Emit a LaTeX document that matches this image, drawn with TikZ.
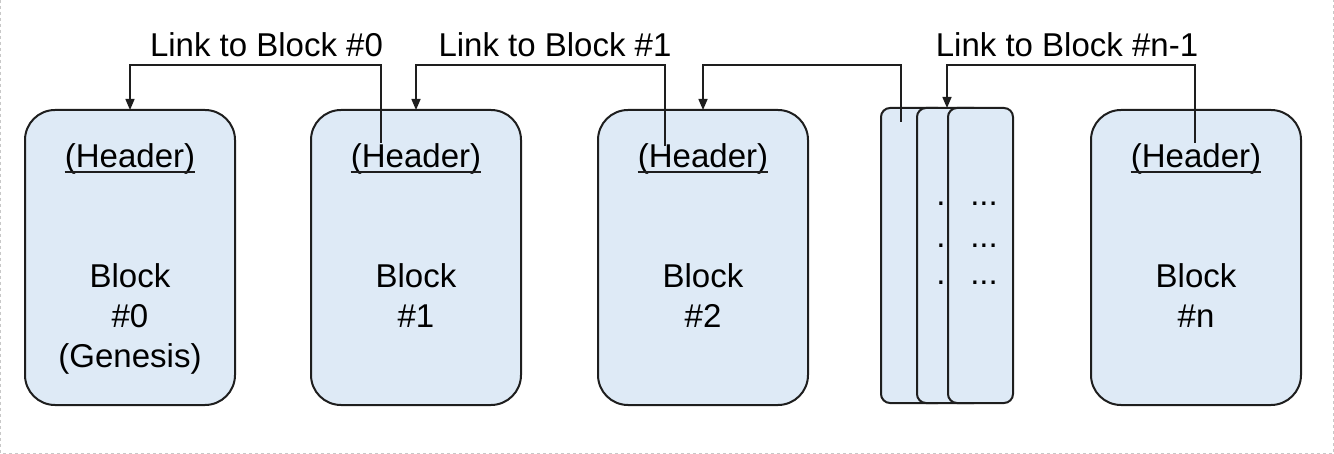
\documentclass[tikz,border=0pt]{standalone}
\usepackage{fontspec}
\setmainfont{Liberation Sans}
\usetikzlibrary{arrows.meta}
\definecolor{boxfill}{RGB}{222,234,246}
\definecolor{edge}{RGB}{30,30,30}
\definecolor{frame}{RGB}{200,200,200}
\begin{document}
\begin{tikzpicture}[x=1pt,y=-1pt,
  blockbox/.style={draw=edge,line width=2pt,fill=boxfill,rounded corners=30pt,
    minimum width=210pt,minimum height=295pt,inner sep=0pt,outer sep=0pt},
  stackbox/.style={draw=edge,line width=2pt,fill=boxfill,rounded corners=9pt,
    minimum width=66pt,minimum height=295pt,inner sep=0pt,outer sep=0pt},
  txt/.style={font=\fontsize{33}{40}\selectfont,inner sep=0pt,anchor=base},
  uline/.style={draw=edge,line width=1.5pt},
  link/.style={draw=edge,line width=1.5pt,-{Triangle[length=11pt,width=9pt]}}]
\useasboundingbox (0,0) rectangle (1334,454);
% faint frame
\draw[frame,dashed,line width=1pt] (0.5,0) -- (0.5,453.5) -- (1333.5,453.5) -- (1333.5,0);

% blocks
\node[blockbox] (b0) at (130,257.5) {};
\node[blockbox] (b1) at (416,257.5) {};
\node[blockbox] (b2) at (703,257.5) {};
\node[blockbox] (bn) at (1196,257.5) {};

% stack
\node[stackbox] (sa) at (914,255.5) {};
\node[stackbox] (sb) at (950,255.5) {};
\node[txt] (sbd1) at (950,206) {...};
\node[txt] (sbd2) at (950,248) {...};
\node[txt] (sbd3) at (950,285) {...};
\node[stackbox,minimum width=65pt] (sc) at (980.5,255.5) {};
\node[txt] (scd1) at (984,206) {...};
\node[txt] (scd2) at (984,248) {...};
\node[txt] (scd3) at (984,285) {...};

% headers
\foreach \n/\x in {h0/130,h1/416,h2/703,hn/1196}{
  \node[txt] (\n) at (\x,168) {(Header)};
  \draw[uline] ([yshift=-4pt]\n.base west) -- ([yshift=-4pt]\n.base east);
}

% block texts
\node[txt] (t0a) at (130,288) {Block};
\node[txt] (t0b) at (130,328) {\#0};
\node[txt] (t0c) at (130,368) {(Genesis)};
\node[txt] (t1a) at (416,288) {Block};
\node[txt] (t1b) at (416,328) {\#1};
\node[txt] (t2a) at (703,288) {Block};
\node[txt] (t2b) at (703,328) {\#2};
\node[txt] (tna) at (1196,288) {Block};
\node[txt] (tnb) at (1196,328) {\#n};

% link labels
\node[txt] (l0) at (266.5,57) {Link to Block \#0};
\node[txt] (l1) at (555,57) {Link to Block \#1};
\node[txt] (l2) at (1067,57) {Link to Block \#n-1};

% link sources and targets
\coordinate (s1) at (381,143);
\coordinate (s2) at (665,146);
\coordinate (s3) at (901,122);
\coordinate (sn) at (1195,143);
\coordinate (tst) at (947,108);

\draw[link] (s1) -- (381,65) -| (b0.north);
\draw[link] (s2) -- (665,65) -| (b1.north);
\draw[link] (s3) -- (901,65) -| (b2.north);
\draw[link] (sn) -- (1195,65) -| (tst);
\end{tikzpicture}
\end{document}
